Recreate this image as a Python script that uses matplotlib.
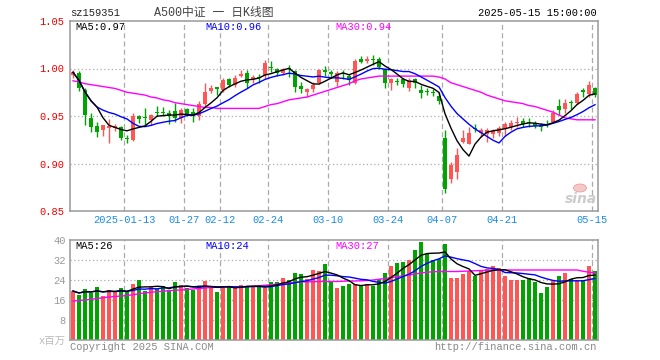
import numpy as np
import pandas as pd
import matplotlib
matplotlib.use("Agg")
import matplotlib.pyplot as plt
from matplotlib.patches import Ellipse

W, H = 660, 360
MONO = ["Liberation Mono", "Noto Sans CJK SC"]
RED, GREEN = "#ff5555", "#00a300"
GRID_C = "#aaaaaa"

# trading days (SSE calendar, holidays removed)
holidays = ["2025-01-01", "2025-01-28", "2025-01-29", "2025-01-30", "2025-01-31",
            "2025-02-03", "2025-02-04", "2025-04-04", "2025-05-01", "2025-05-02",
            "2025-05-05"]
tick_dates = ["2025-01-13", "2025-01-27", "2025-02-12", "2025-02-24", "2025-03-10",
              "2025-03-24", "2025-04-07", "2025-04-21", "2025-05-15"]

open_ = [0.993, 0.995, 0.977, 0.948, 0.940, 0.935, 0.937, 0.937, 0.938, 0.927,
         0.925, 0.950, 0.949, 0.946, 0.954, 0.954, 0.953, 0.955, 0.948, 0.957,
         0.954, 0.950, 0.963, 0.976, 0.980, 0.977, 0.989, 0.983, 0.992, 0.995,
         0.989, 0.991, 0.993, 1.002, 1.000, 0.995, 1.000, 0.997, 0.982, 0.975,
         0.978, 0.985, 0.998, 0.996, 0.986, 0.995, 0.992, 0.985, 1.010, 1.008,
         1.010, 1.010, 1.000, 0.985, 0.987, 0.989, 0.980, 0.989, 0.977, 0.976,
         0.975, 0.971, 0.927, 0.884, 0.891, 0.923, 0.921, 0.937, 0.932, 0.931,
         0.931, 0.932, 0.936, 0.938, 0.943, 0.945, 0.944, 0.943, 0.941, 0.942,
         0.944, 0.961, 0.957, 0.965, 0.964, 0.977, 0.973, 0.979]
high = [0.998, 0.997, 0.979, 0.953, 0.944, 0.941, 0.947, 0.942, 0.939, 0.930,
        0.953, 0.951, 0.958, 0.952, 0.961, 0.960, 0.956, 0.964, 0.958, 0.958,
        0.958, 0.966, 0.985, 0.983, 0.981, 0.990, 0.990, 0.993, 0.998, 0.998,
        0.993, 0.994, 1.009, 1.008, 1.001, 1.001, 1.004, 0.998, 0.986, 0.979,
        0.986, 0.999, 1.003, 0.998, 0.997, 0.998, 0.994, 1.010, 1.013, 1.013,
        1.014, 1.012, 1.001, 0.990, 0.990, 0.990, 0.990, 0.990, 0.983, 0.979,
        0.978, 0.975, 0.935, 0.902, 0.916, 0.935, 0.938, 0.942, 0.937, 0.937,
        0.936, 0.939, 0.944, 0.946, 0.949, 0.948, 0.948, 0.945, 0.943, 0.946,
        0.956, 0.968, 0.968, 0.967, 0.975, 0.979, 0.987, 0.981]
low = [0.990, 0.976, 0.941, 0.933, 0.928, 0.929, 0.922, 0.934, 0.925, 0.922,
       0.924, 0.943, 0.941, 0.941, 0.950, 0.950, 0.942, 0.944, 0.943, 0.950,
       0.944, 0.946, 0.961, 0.974, 0.972, 0.975, 0.981, 0.981, 0.991, 0.980,
       0.985, 0.985, 0.989, 0.996, 0.992, 0.993, 0.991, 0.975, 0.974, 0.970,
       0.975, 0.984, 0.992, 0.990, 0.982, 0.989, 0.983, 0.984, 1.006, 1.006,
       1.004, 0.999, 0.980, 0.977, 0.983, 0.981, 0.976, 0.980, 0.969, 0.972,
       0.971, 0.963, 0.869, 0.880, 0.884, 0.922, 0.920, 0.933, 0.928, 0.923,
       0.927, 0.929, 0.929, 0.935, 0.938, 0.938, 0.938, 0.937, 0.934, 0.938,
       0.943, 0.951, 0.953, 0.957, 0.963, 0.970, 0.970, 0.970]
close = [0.996, 0.979, 0.951, 0.938, 0.933, 0.940, 0.939, 0.940, 0.927, 0.926,
         0.950, 0.947, 0.948, 0.951, 0.953, 0.953, 0.950, 0.948, 0.956, 0.951,
         0.950, 0.963, 0.975, 0.980, 0.978, 0.988, 0.983, 0.990, 0.994, 0.985,
         0.991, 0.990, 1.006, 1.001, 0.995, 1.000, 0.999, 0.981, 0.978, 0.978,
         0.983, 0.998, 0.996, 0.994, 0.995, 0.994, 0.988, 1.008, 1.007, 1.010,
         1.009, 1.002, 0.985, 0.989, 0.986, 0.984, 0.988, 0.985, 0.974, 0.975,
         0.974, 0.966, 0.873, 0.898, 0.909, 0.927, 0.932, 0.936, 0.935, 0.935,
         0.934, 0.937, 0.942, 0.943, 0.944, 0.942, 0.943, 0.940, 0.938, 0.941,
         0.953, 0.956, 0.964, 0.964, 0.973, 0.975, 0.983, 0.972]
ma30 = [0.987, 0.986, 0.984, 0.983, 0.982, 0.981, 0.980, 0.979, 0.977, 0.975,
        0.974, 0.973, 0.972, 0.970, 0.969, 0.967, 0.966, 0.964, 0.963, 0.962,
        0.961, 0.960, 0.959, 0.959, 0.958, 0.958, 0.958, 0.958, 0.958, 0.958,
        0.958, 0.958, 0.960, 0.962, 0.963, 0.965, 0.967, 0.968, 0.969, 0.970,
        0.972, 0.974, 0.976, 0.978, 0.980, 0.982, 0.984, 0.987, 0.989, 0.990,
        0.991, 0.992, 0.992, 0.992, 0.992, 0.992, 0.992, 0.992, 0.992, 0.992,
        0.992, 0.991, 0.989, 0.985, 0.983, 0.981, 0.979, 0.977, 0.975, 0.972,
        0.970, 0.968, 0.966, 0.965, 0.964, 0.963, 0.961, 0.960, 0.958, 0.956,
        0.954, 0.951, 0.948, 0.947, 0.946, 0.946, 0.946, 0.946]
volume = [19.6, 18.0, 20.4, 18.9, 21.2, 17.7, 20.0, 19.3, 20.9, 19.2,
          22.4, 24.0, 19.7, 21.1, 20.3, 21.6, 20.0, 23.3, 22.0, 20.9,
          20.0, 21.3, 23.7, 20.9, 19.3, 20.9, 21.6, 21.6, 22.0, 21.2,
          21.2, 21.6, 20.9, 23.3, 23.3, 24.9, 24.0, 26.9, 26.4, 24.4,
          28.0, 27.6, 30.5, 23.3, 20.9, 21.6, 22.4, 22.4, 21.6, 22.4,
          21.6, 24.4, 26.9, 29.7, 30.9, 31.3, 32.0, 36.0, 39.2, 34.4,
          32.0, 32.3, 38.4, 24.9, 24.9, 26.4, 27.6, 25.6, 28.0, 28.4,
          29.6, 28.9, 25.6, 24.0, 24.0, 24.0, 24.9, 23.2, 18.9, 21.2,
          23.6, 25.6, 26.9, 24.4, 24.0, 24.0, 29.7, 27.6]
vol_ma30 = [15.6, 15.8, 16.0, 16.3, 16.6, 16.9, 17.2, 17.4, 17.6, 17.8,
            18.1, 18.5, 18.8, 19.1, 19.3, 19.5, 19.7, 19.9, 20.0, 20.2,
            20.4, 20.6, 20.8, 21.0, 21.1, 21.2, 21.3, 21.3, 21.3, 21.4,
            21.5, 21.7, 21.9, 22.1, 22.4, 22.6, 22.8, 23.0, 23.2, 23.3,
            23.3, 23.4, 23.4, 23.4, 23.4, 23.5, 23.6, 23.6, 23.7, 23.8,
            24.0, 24.3, 24.6, 25.0, 25.3, 25.7, 26.0, 26.4, 26.8, 27.1,
            27.3, 27.4, 27.4, 27.4, 27.4, 27.5, 27.6, 27.7, 27.8, 27.9,
            28.0, 28.0, 28.0, 28.0, 28.0, 28.0, 28.0, 28.0, 28.0, 28.0,
            28.0, 28.0, 28.0, 28.0, 28.0, 27.5, 27.1, 26.9]

price_ticks = [0.85, 0.90, 0.95, 1.00, 1.05]
vol_ticks = [8, 16, 24, 32, 40]


def px(x, y):
    return x / W, 1 - y / H


bd = pd.bdate_range("2024-12-30", "2025-05-15")
dates = bd[~bd.isin(pd.to_datetime(holidays))]
df = pd.DataFrame({"o": open_, "h": high, "l": low, "c": close, "v": volume,
                   "ma30": ma30, "vma30": vol_ma30}, index=dates)
df["ma5"] = df.c.rolling(5, min_periods=1).mean()
df["ma10"] = df.c.rolling(10, min_periods=1).mean()
df["vma5"] = df.v.rolling(5, min_periods=1).mean()
df["vma10"] = df.v.rolling(10, min_periods=1).mean()
x = np.arange(len(df))
up = (df.c >= df.o).values
cols = np.where(up, RED, GREEN)
tick_idx = [dates.get_loc(pd.Timestamp(d)) for d in tick_dates]
tick_lab = [tick_dates[0]] + [d[5:] for d in tick_dates[1:]]

fig = plt.figure(figsize=(W / 100, H / 100), dpi=100)
ax = fig.add_axes([70 / W, 1 - 211 / H, 528 / W, 190 / H])
axv = fig.add_axes([70 / W, 1 - 340 / H, 528 / W, 100 / H])

for a in (ax, axv):
    a.set_xlim(-0.5, len(df) - 0.5)
    for s in a.spines.values():
        s.set_color("#999999"); s.set_linewidth(1.1)
    a.tick_params(length=0)
    for i in tick_idx:
        a.axvline(i - 0.5, color=GRID_C, lw=0.9, ls=(0, (4, 2.6)), zorder=0)

# ── price panel ─────────────────────────────────────────
ax.set_ylim(0.85, 1.05)
for p in price_ticks[1:-1]:
    ax.axhline(p, color=GRID_C, lw=0.9, ls=(0, (1, 2)), zorder=0)
ax.vlines(x, df.l, df.h, colors=cols, lw=1, zorder=2)
body = np.maximum((df.c - df.o).abs().values, 0.0011)
ax.bar(x, body, bottom=np.minimum(df.o, df.c), width=0.75, color=cols, lw=0, zorder=3)
ax.plot(x, df.ma30, color="#ff00ff", lw=1, zorder=4)
ax.plot(x, df.ma10, color="#0000ff", lw=1, zorder=4)
ax.plot(x, df.ma5, color="black", lw=1, zorder=5)
ax.set_yticks(price_ticks)
ax.set_yticklabels([f"{p:.2f}" for p in price_ticks], family=MONO, fontsize=7.5, color="#ee0000")
ax.set_xticks([i - 0.5 for i in tick_idx])
ax.set_xticklabels(tick_lab, family=MONO, fontsize=7.5, color="#1a8ae6")
ax.tick_params(axis="x", pad=3)
ax.tick_params(axis="y", pad=4)

# ── volume panel ────────────────────────────────────────
axv.set_ylim(0, 40)
for v in vol_ticks[:-1]:
    axv.axhline(v, color=GRID_C, lw=0.9, ls=(0, (1, 2)), zorder=0)
axv.bar(x, df.v, width=0.82, color=cols, lw=0, zorder=2)
axv.plot(x, df.vma30, color="#ff00ff", lw=1, zorder=4)
axv.plot(x, df.vma10, color="#0000ff", lw=1, zorder=4)
axv.plot(x, df.vma5, color="black", lw=1, zorder=5)
axv.set_yticks(vol_ticks)
axv.set_yticklabels([str(v) for v in vol_ticks], family=MONO, fontsize=7.5, color="#999999")
axv.tick_params(axis="y", pad=3)
axv.set_xticks([])

# ── texts ───────────────────────────────────────────────
fig.text(*px(70, 13), "sz159351", family=MONO, fontsize=7.5, color="#222222", va="center")
fig.text(*px(214, 13), "A500中证 一 日K线图", family=MONO, fontsize=8.5, color="#444444",
         va="center", ha="center")
fig.text(*px(597, 13), "2025-05-15 15:00:00", family=MONO, fontsize=7.5, color="black",
         va="center", ha="right")
for (lbl, c, xx) in [("MA5:0.97", "black", 75), ("MA10:0.96", "#0000ff", 205),
                     ("MA30:0.94", "#ff00ff", 335)]:
    fig.text(*px(xx, 27), lbl, family=MONO, fontsize=7.5, color=c, va="center")
for (lbl, c, xx) in [("MA5:26", "black", 75), ("MA10:24", "#0000ff", 205),
                     ("MA30:27", "#ff00ff", 335)]:
    fig.text(*px(xx, 246), lbl, family=MONO, fontsize=7.5, color=c, va="center")
fig.text(*px(66, 341), "x百万", family=MONO, fontsize=7.5, color="#bbbbbb", va="center", ha="right")
fig.text(*px(70, 347), "Copyright 2025 SINA.COM", family=MONO, fontsize=7.5, color="#888888",
         va="center")
fig.text(*px(597, 347), "http://finance.sina.com.cn", family=MONO, fontsize=7.5,
         color="#888888", va="center", ha="right")
# sina watermark
fig.text(*px(581, 199), "sina", fontsize=10, fontweight="bold", style="italic",
         color="#cccccc", va="center", ha="center")
fig.patches.append(Ellipse(px(580, 188), 13 / W, 8 / H, transform=fig.transFigure,
                           facecolor="#f5c8c8", edgecolor="#e8a0a0", lw=0.6, zorder=1))

fig.savefig("out.png", dpi=100)
